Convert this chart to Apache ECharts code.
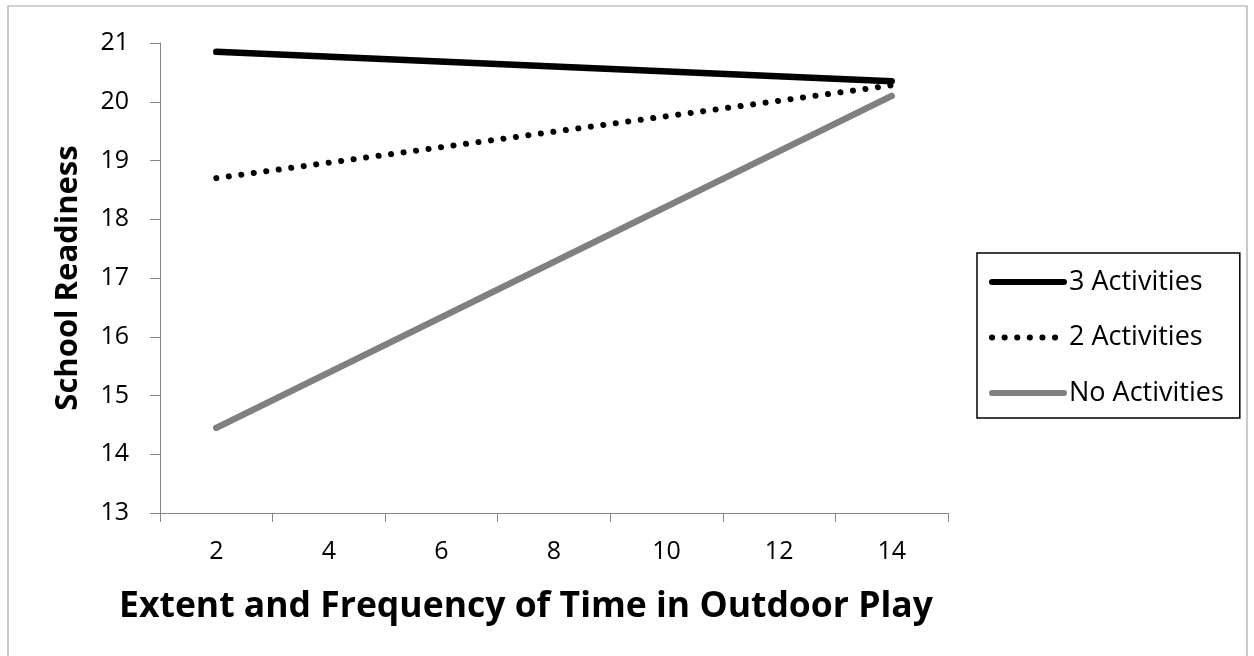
<!DOCTYPE html>
<html><head><meta charset="utf-8">
<script src="https://cdn.jsdelivr.net/npm/echarts@6/dist/echarts.min.js"></script>
<style>html,body{margin:0;padding:0;background:#fff}#c{width:1254px;height:656px}</style>
</head><body><div id="c"></div>
<script>
const categories = ['2','4','6','8','10','12','14'];
const threeActivities = [20.85, null, null, null, null, null, 20.35];
const twoActivities = [18.7, null, null, null, null, null, 20.28];
const noActivities = [14.45, null, null, null, null, null, 20.1];
const seriesNames = ['3 Activities', '2 Activities', 'No Activities'];
const FONT = '"Open Sans", "Noto Sans", sans-serif';

const chart = echarts.init(document.getElementById('c'));
chart.setOption({
  animation: false,
  backgroundColor: '#fff',
  graphic: [{type:'rect', shape:{x:8, y:6, width:1239, height:660}, style:{fill:'none', stroke:'#a6a6a6', lineWidth:1.2}, silent:true}],
  grid: {left:160, right:306, top:43, bottom:143},
  legend: {
    orient:'vertical', left:977, top:253,
    data: seriesNames,
    itemWidth:72, itemHeight:2, itemGap:28.5,
    padding:[15.5,16,11.5,12],
    borderColor:'#000', borderWidth:1.5,
    itemStyle:{opacity:0},
    lineStyle:{width:6, cap:'round'},
    textStyle:{fontFamily:FONT, fontSize:27, color:'#000'}
  },
  xAxis: {
    type:'category', data:categories, boundaryGap:true,
    name:'Extent and Frequency of Time in Outdoor Play', nameLocation:'middle', nameGap:76,
    nameTextStyle:{fontFamily:FONT, fontSize:35.5, fontWeight:'bold', color:'#000', padding:[0,56,0,0]},
    axisLine:{lineStyle:{color:'#868686', width:1}},
    axisTick:{show:true, length:9, alignWithLabel:false, lineStyle:{color:'#868686'}},
    axisLabel:{fontFamily:FONT, fontSize:25, color:'#000', margin:26},
    splitLine:{show:false}
  },
  yAxis: {
    type:'value', min:13, max:21, interval:1,
    name:'School Readiness', nameLocation:'middle', nameGap:76, nameRotate:90,
    nameTextStyle:{fontFamily:FONT, fontSize:31, fontWeight:'bold', color:'#000'},
    axisLine:{show:true, lineStyle:{color:'#868686', width:1}},
    axisTick:{show:true, length:10, inside:false, lineStyle:{color:'#868686'}},
    axisLabel:{fontFamily:FONT, fontSize:25, color:'#000', margin:31},
    splitLine:{show:false}
  },
  series: [
    {name:seriesNames[0], type:'line', data:threeActivities, connectNulls:true, symbol:'none',
     itemStyle:{color:'#000'}, lineStyle:{color:'#000', width:6.5, cap:'round'}},
    {name:seriesNames[1], type:'line', data:twoActivities, connectNulls:true, symbol:'none',
     itemStyle:{color:'#000'}, lineStyle:{color:'#000', width:6, type:[0.1, 12.5], cap:'round'}},
    {name:seriesNames[2], type:'line', data:noActivities, connectNulls:true, symbol:'none',
     itemStyle:{color:'#808080'}, lineStyle:{color:'#808080', width:6.5, cap:'round'}}
  ]
});
</script></body></html>
